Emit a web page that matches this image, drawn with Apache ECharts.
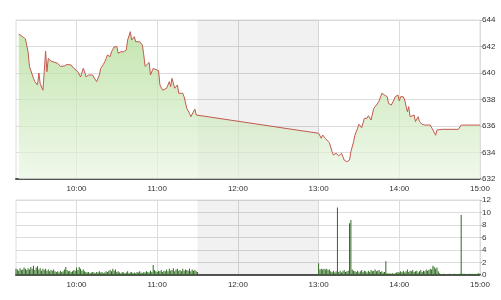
<!DOCTYPE html>
<html><head><meta charset="utf-8">
<script src="https://cdn.jsdelivr.net/npm/echarts@6/dist/echarts.min.js"></script>
<style>html,body{margin:0;padding:0;background:#fff;}#c{width:501px;height:300px;}</style>
</head><body><div id="c"></div>
<script>
const hourTicks = ['10:00','11:00','12:00','13:00','14:00','15:00'];
const sessionRange = ['09:15','15:00'];
const lunchBreak = ['11:30','13:00'];
const priceTicks = [632, 644, 2];
const volumeTicks = [0, 12, 2];

const priceTimes = [
'09:17','09:20','09:22','09:24','09:25','09:26','09:28','09:29','09:31','09:32','09:33','09:35','09:36','09:37','09:38','09:39','09:41','09:46','09:48','09:51','09:53','09:56','09:58',
'10:01','10:03','10:05','10:06','10:07','10:09','10:12','10:13','10:15','10:17','10:18','10:20','10:21','10:22','10:23','10:25','10:26','10:27','10:28','10:30','10:31','10:33','10:35','10:37','10:38','10:40','10:41','10:43','10:44','10:45','10:47','10:49','10:50','10:51','10:52','10:54','10:55','10:57',
'11:01','11:02','11:04','11:07','11:09','11:10','11:11','11:13','11:15','11:16','11:19','11:20','11:22','11:24','11:25','11:26','11:28','11:29','11:30',
'13:00','13:02','13:03','13:05','13:08','13:10','13:11','13:13','13:15','13:17','13:18','13:19','13:21','13:23','13:24','13:26','13:27','13:29','13:30','13:32','13:34','13:35','13:36','13:37','13:39','13:41','13:43','13:45','13:47','13:49','13:51','13:52','13:54','13:56','13:57','13:59',
'14:00','14:01','14:03','14:04','14:06','14:07','14:08','14:09','14:11','14:12','14:14','14:15','14:17','14:19','14:23','14:25','14:27','14:28','14:32','14:44','14:46','15:00'];
const priceValues = [
642.94,642.74,642.57,641.6,640.5,640.35,639.6,639.35,639.1,640.0,639.2,638.7,640.1,641.66,640.1,641.1,640.9,640.73,640.5,640.53,640.65,640.6,640.35,
640.1,639.7,640.35,640.1,639.72,639.85,639.85,639.65,639.35,639.85,640.35,640.65,640.85,641.1,641.36,641.23,641.6,641.74,641.98,641.98,641.49,641.6,641.6,641.74,642.49,643.12,642.49,642.74,642.36,642.24,642.36,642.1,641.36,640.5,640.35,640.8,639.85,640.35,
640.17,639.1,638.7,638.85,639.35,638.97,639.6,638.85,639.1,638.47,638.47,638.2,637.33,636.96,636.7,636.83,637.28,636.83,636.9,
635.45,635.07,635.32,635.07,634.74,634.06,633.81,633.94,633.74,633.94,633.81,633.43,633.3,633.43,634.06,634.81,635.3,635.83,636.13,635.87,636.58,636.7,636.58,636.78,636.45,637.33,637.58,637.89,638.47,638.34,638.21,637.71,637.58,637.96,638.21,638.34,
637.89,638.21,638.21,637.96,637.08,637.46,636.7,636.58,636.83,636.33,636.7,636.33,636.13,636.07,636.07,635.7,635.3,635.7,635.75,635.75,636.07,636.07];

const volumeMorningStart = '09:15';
const volumeMorning = [
1.0,0.9,0.7,1.1,0.8,0.9,1.2,1.0,0.8,1.1,
0.9,1.3,1.0,1.5,0.8,1.2,1.4,0.9,1.1,0.7,1.0,
0.8,1.0,0.7,0.9,0.6,0.8,0.7,0.9,0.6,
0.5,0.6,0.4,0.7,0.5,0.6,0.9,1.3,0.8,0.6,0.7,0.5,0.6,0.8,0.7,
1.2,0.8,1.3,1.0,0.7,0.9,0.6,0.5,
0.4,0.5,0.3,0.4,0.5,0.4,0.3,0.5,0.4,0.6,0.4,0.5,0.3,0.4,0.6,0.5,0.7,
0.8,0.6,1.0,0.7,0.9,0.5,0.6,
0.4,0.3,0.5,0.4,0.3,0.4,0.6,0.3,0.4,0.5,0.3,0.4,0.3,0.5,0.4,0.6,0.4,0.3,0.5,0.4,0.6,0.5,0.4,0.7,0.5,
1.6,0.8,
0.6,0.5,0.7,0.6,0.8,0.5,0.7,0.6,
0.9,0.6,1.0,0.7,0.8,1.1,0.6,0.9,1.0,0.7,0.8,0.6,1.0,0.7,0.9,
0.8,0.7,1.0,0.6,0.9,0.7,0.8,0.6,0.5];
const volumeAfternoonStart = '13:00';
const volumeAfternoon = [
1.9,0.9,1.0,0.9,1.0,0.9,1.0,0.8,0.9,0.6,
0.5,0.7,0.4,0.6,
10.8,
0.5,0.7,0.4,0.6,0.8,0.5,0.6,0.7,
8.3,8.8,
0.9,0.7,0.6,0.5,0.7,0.4,0.6,0.8,0.5,0.7,0.6,0.4,0.7,0.5,0.8,0.6,0.7,0.9,0.6,0.7,0.8,0.5,0.6,0.4,0.5,
2.2,
0.3,0.2,0.3,0.2,0.3,0.2,0.3,0.4,
0.5,0.4,0.6,0.5,0.7,0.4,0.6,0.9,0.5,0.7,0.6,0.8,0.5,0.6,0.7,0.4,0.6,0.8,0.5,0.7,0.6,0.9,0.7,0.8,1.0,0.9,
1.5,1.3,1.0,1.2,0.6,
0.3,0.1,0.1,0.2,0.1,0.1,0.1,0.2,0.1,0.1,0.1,0.2,0.1,0.1,0.1,0.2,
9.6,
0.2,0.1,0.2,0.1,0.1,0.2,0.1,0.2,0.1,0.2,0.1,0.2,0.3,0.2];

function toMin(s){const p=s.split(':');return (+p[0])*60+(+p[1]);}
function fmt(v){const h=Math.floor(v/60),m=Math.round(v%60);return (h<10?'0':'')+h+':'+(m<10?'0':'')+m;}

const priceData = priceTimes.map((t,i)=>[toMin(t), priceValues[i]]);
const volData = volumeMorning.map((v,i)=>[toMin(volumeMorningStart)+i, v])
  .concat(volumeAfternoon.map((v,i)=>[toMin(volumeAfternoonStart)+i, v]));
const tickVals = hourTicks.map(toMin);

const labelFont = {fontFamily:'Liberation Sans', fontSize:8, color:'#333'};
const gridColor = '#dcdcdc';

function xAxisFor(i){
  return {
    type:'value', gridIndex:i, min:toMin(sessionRange[0]), max:toMin(sessionRange[1]),
    axisLine:{show:true, onZero:false, lineStyle:{color:'#555', width:2}},
    axisTick:{show:false, customValues:tickVals},
    axisLabel:Object.assign({customValues:tickVals, formatter:fmt, margin:6}, labelFont),
    splitLine:{show:true, lineStyle:{color:gridColor, width:1}}
  };
}
function yAxisFor(i, t){
  return {
    type:'value', gridIndex:i, position:'right', min:t[0], max:t[1], interval:t[2],
    axisLine:{show:false}, axisTick:{show:true, length:2, lineStyle:{color:'#bbb'}},
    axisLabel:Object.assign({margin:2}, labelFont),
    splitLine:{show:true, lineStyle:{color:gridColor, width:1}}
  };
}
const lunchArea = {silent:true, itemStyle:{color:'rgba(0,0,0,0.055)'},
  data:[[{xAxis:toMin(lunchBreak[0])},{xAxis:toMin(lunchBreak[1])}]]};

const chart = echarts.init(document.getElementById('c'), null, {renderer:'canvas'});
chart.setOption({
  animation:false,
  grid:[
    {left:16, right:21, top:20, height:159, show:true, borderColor:gridColor, borderWidth:1},
    {left:16, right:21, top:200, height:75, show:true, borderColor:gridColor, borderWidth:1}
  ],
  xAxis:[xAxisFor(0), xAxisFor(1)],
  yAxis:[yAxisFor(0, priceTicks), yAxisFor(1, volumeTicks)],
  series:[
    {type:'line', xAxisIndex:0, yAxisIndex:0, data:priceData, symbol:'none',
     lineStyle:{color:'#c25a4f', width:1},
     areaStyle:{opacity:0.7, color:new echarts.graphic.LinearGradient(0,0,0,1,[{offset:0,color:'#acda8e'},{offset:1,color:'#e9f5e3'}])},
     markArea:lunchArea},
    {type:'bar', xAxisIndex:1, yAxisIndex:1, data:volData, barWidth:1,
     itemStyle:{color:'#2f6a22'}, markArea:lunchArea}
  ]
});
</script></body></html>
